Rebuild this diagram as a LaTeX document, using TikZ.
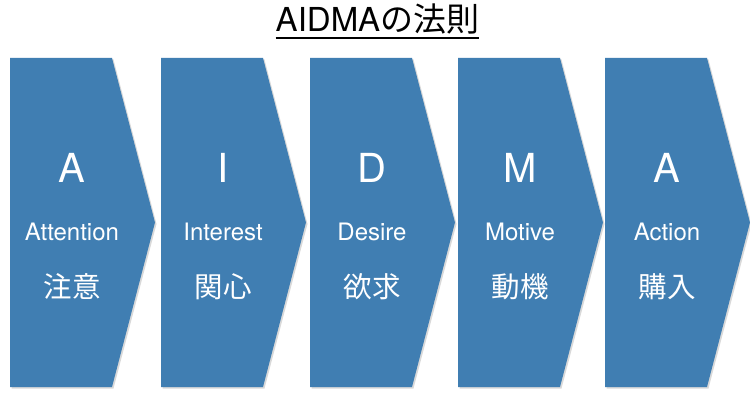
\documentclass[tikz,border=0pt]{standalone}
\usepackage{fontspec}
\setmainfont{TeX Gyre Heros}
\newfontfamily\jp{Noto Sans CJK JP}
\definecolor{chevblue}{RGB}{64,126,178}
\begin{document}
\begin{tikzpicture}[x=1pt,y=1pt]
\tikzset{
  chev/.style={fill=chevblue},
  chevshadow/.style={fill=black,opacity=0.15},
  letter/.style={text=white,font=\fontsize{40}{40}\selectfont,anchor=base,inner sep=0pt},
  word/.style={text=white,font=\fontsize{24}{24}\selectfont,anchor=base,inner sep=0pt},
  kanji/.style={text=white,font=\jp\fontsize{28.5}{28.5}\selectfont,anchor=base,inner sep=0pt},
  titletext/.style={text=black,font=\fontsize{33}{33}\selectfont,anchor=base,inner sep=0pt},
  uline/.style={line width=2pt,black}
}
\useasboundingbox (0,0) rectangle (750,402);
\fill[white] (0,0) rectangle (750,402);
\foreach \x/\L/\E/\J [count=\i] in {10/A/Attention/注意, 161/I/Interest/関心, 310/D/Desire/欲求, 458/M/Motive/動機, 605/A/Action/購入} {
  \fill[chevshadow] (\x+1.5,342.5) -- (\x+103.5,342.5) -- (\x+146.5,178) -- (\x+103.5,13.5) -- (\x+1.5,13.5) -- cycle;
  \fill[chev] (\x,344) -- (\x+102,344) -- (\x+145,179.5) -- (\x+102,15) -- (\x,15) -- cycle;
  \node[letter] (L\i) at (\x+62,219.5) {\L};
  \node[word] (E\i) at (\x+62,161.5) {\E};
  \node[kanji] (J\i) at (\x+62,104) {\J};
}
\node[titletext] (title) at (377.5,370) {AIDMA{\jp の法則}};
\draw[uline] ([yshift=-6pt]title.base west) -- ([yshift=-6pt]title.base east);
\end{tikzpicture}
\end{document}
